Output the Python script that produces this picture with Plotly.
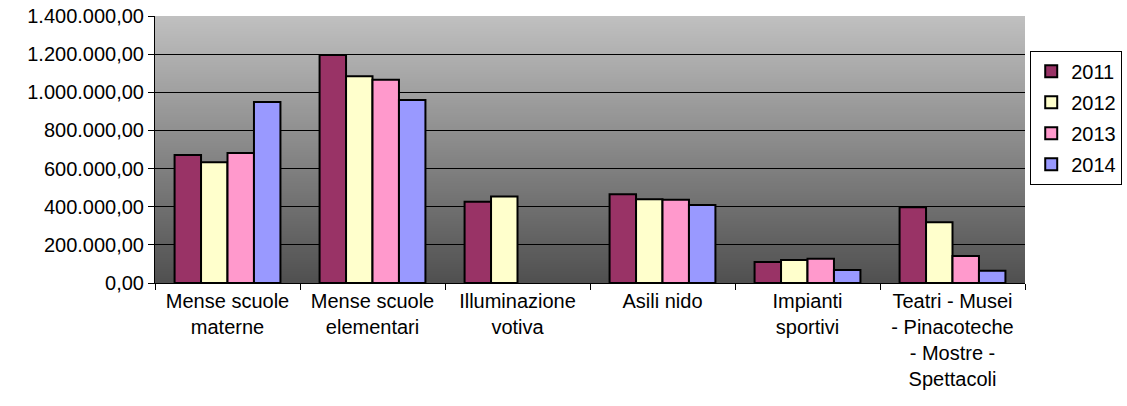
import base64
import struct
import zlib

import plotly.graph_objects as go

categories = [
    "Mense scuole<br>materne",
    "Mense scuole<br>elementari",
    "Illuminazione<br>votiva",
    "Asili nido",
    "Impianti<br>sportivi",
    "Teatri - Musei<br>- Pinacoteche<br>- Mostre -<br>Spettacoli",
]
years = ["2011", "2012", "2013", "2014"]
v2011 = [671000, 1196000, 426000, 465000, 110000, 397000]
v2012 = [633000, 1084000, 453000, 439000, 121000, 318000]
v2013 = [682000, 1066000, None, 437000, 127000, 142000]
v2014 = [949000, 960000, None, 409000, 68000, 64000]
series = [v2011, v2012, v2013, v2014]
colors = ["#993366", "#FFFFCC", "#FF99CC", "#9999FF"]


def gradient_png(top, bottom, n=256):
    vals = [round(top + (bottom - top) * i / (n - 1)) for i in range(n)]
    raw = b"".join(b"\x00" + bytes([v]) for v in vals)

    def chunk(tag, data):
        c = struct.pack(">I", len(data)) + tag + data
        return c + struct.pack(">I", zlib.crc32(tag + data) & 0xFFFFFFFF)

    png = b"\x89PNG\r\n\x1a\n"
    png += chunk(b"IHDR", struct.pack(">IIBBBBB", 1, n, 8, 0, 0, 0, 0))
    png += chunk(b"IDAT", zlib.compress(raw))
    png += chunk(b"IEND", b"")
    return "data:image/png;base64," + base64.b64encode(png).decode()


FONT = "Liberation Sans, Arial, sans-serif"
FS = 20

fig = go.Figure()
for name, vals, col in zip(years, series, colors):
    fig.add_trace(go.Bar(
        name=name, x=categories, y=vals,
        marker=dict(color=col, line=dict(color="black", width=2)),
        legendgroup=name,
    ))

fig.update_layout(
    width=1127, height=406,
    margin=dict(l=155, r=102, t=16, b=123, autoexpand=False),
    paper_bgcolor="white",
    plot_bgcolor="rgba(0,0,0,0)",
    separators=",.",
    barmode="group",
    bargap=0.27,
    bargroupgap=0,
    font=dict(family=FONT, size=FS, color="black"),
    images=[dict(
        source=gradient_png(192, 80),
        xref="paper", yref="paper", x=0, y=1, sizex=1, sizey=1,
        xanchor="left", yanchor="top", sizing="stretch", layer="below",
    )],
    legend=dict(
        x=1.006, y=0.87, xanchor="left", yanchor="top",
        bordercolor="black", borderwidth=1, bgcolor="white",
        font=dict(family=FONT, size=FS, color="black"),
        traceorder="grouped", tracegroupgap=2,
        itemwidth=30,
    ),
    xaxis=dict(
        showline=True, linecolor="black", linewidth=1,
        ticks="outside", tickson="boundaries", ticklen=6, tickcolor="black",
        showgrid=False, tickfont=dict(family=FONT, size=FS, color="black"),
    ),
    yaxis=dict(
        range=[0, 1400000], dtick=200000, tickformat=",.2f",
        showline=True, linecolor="black", linewidth=1,
        ticks="outside", ticklen=6, tickcolor="black",
        showgrid=True, gridcolor="black", gridwidth=1, zeroline=False,
        tickfont=dict(family=FONT, size=FS, color="black"),
    ),
    showlegend=True,
)

fig.write_html(
    "out.html",
    config={"displayModeBar": False},
    post_script="document.body.style.margin='0';document.body.style.overflow='hidden';",
)
